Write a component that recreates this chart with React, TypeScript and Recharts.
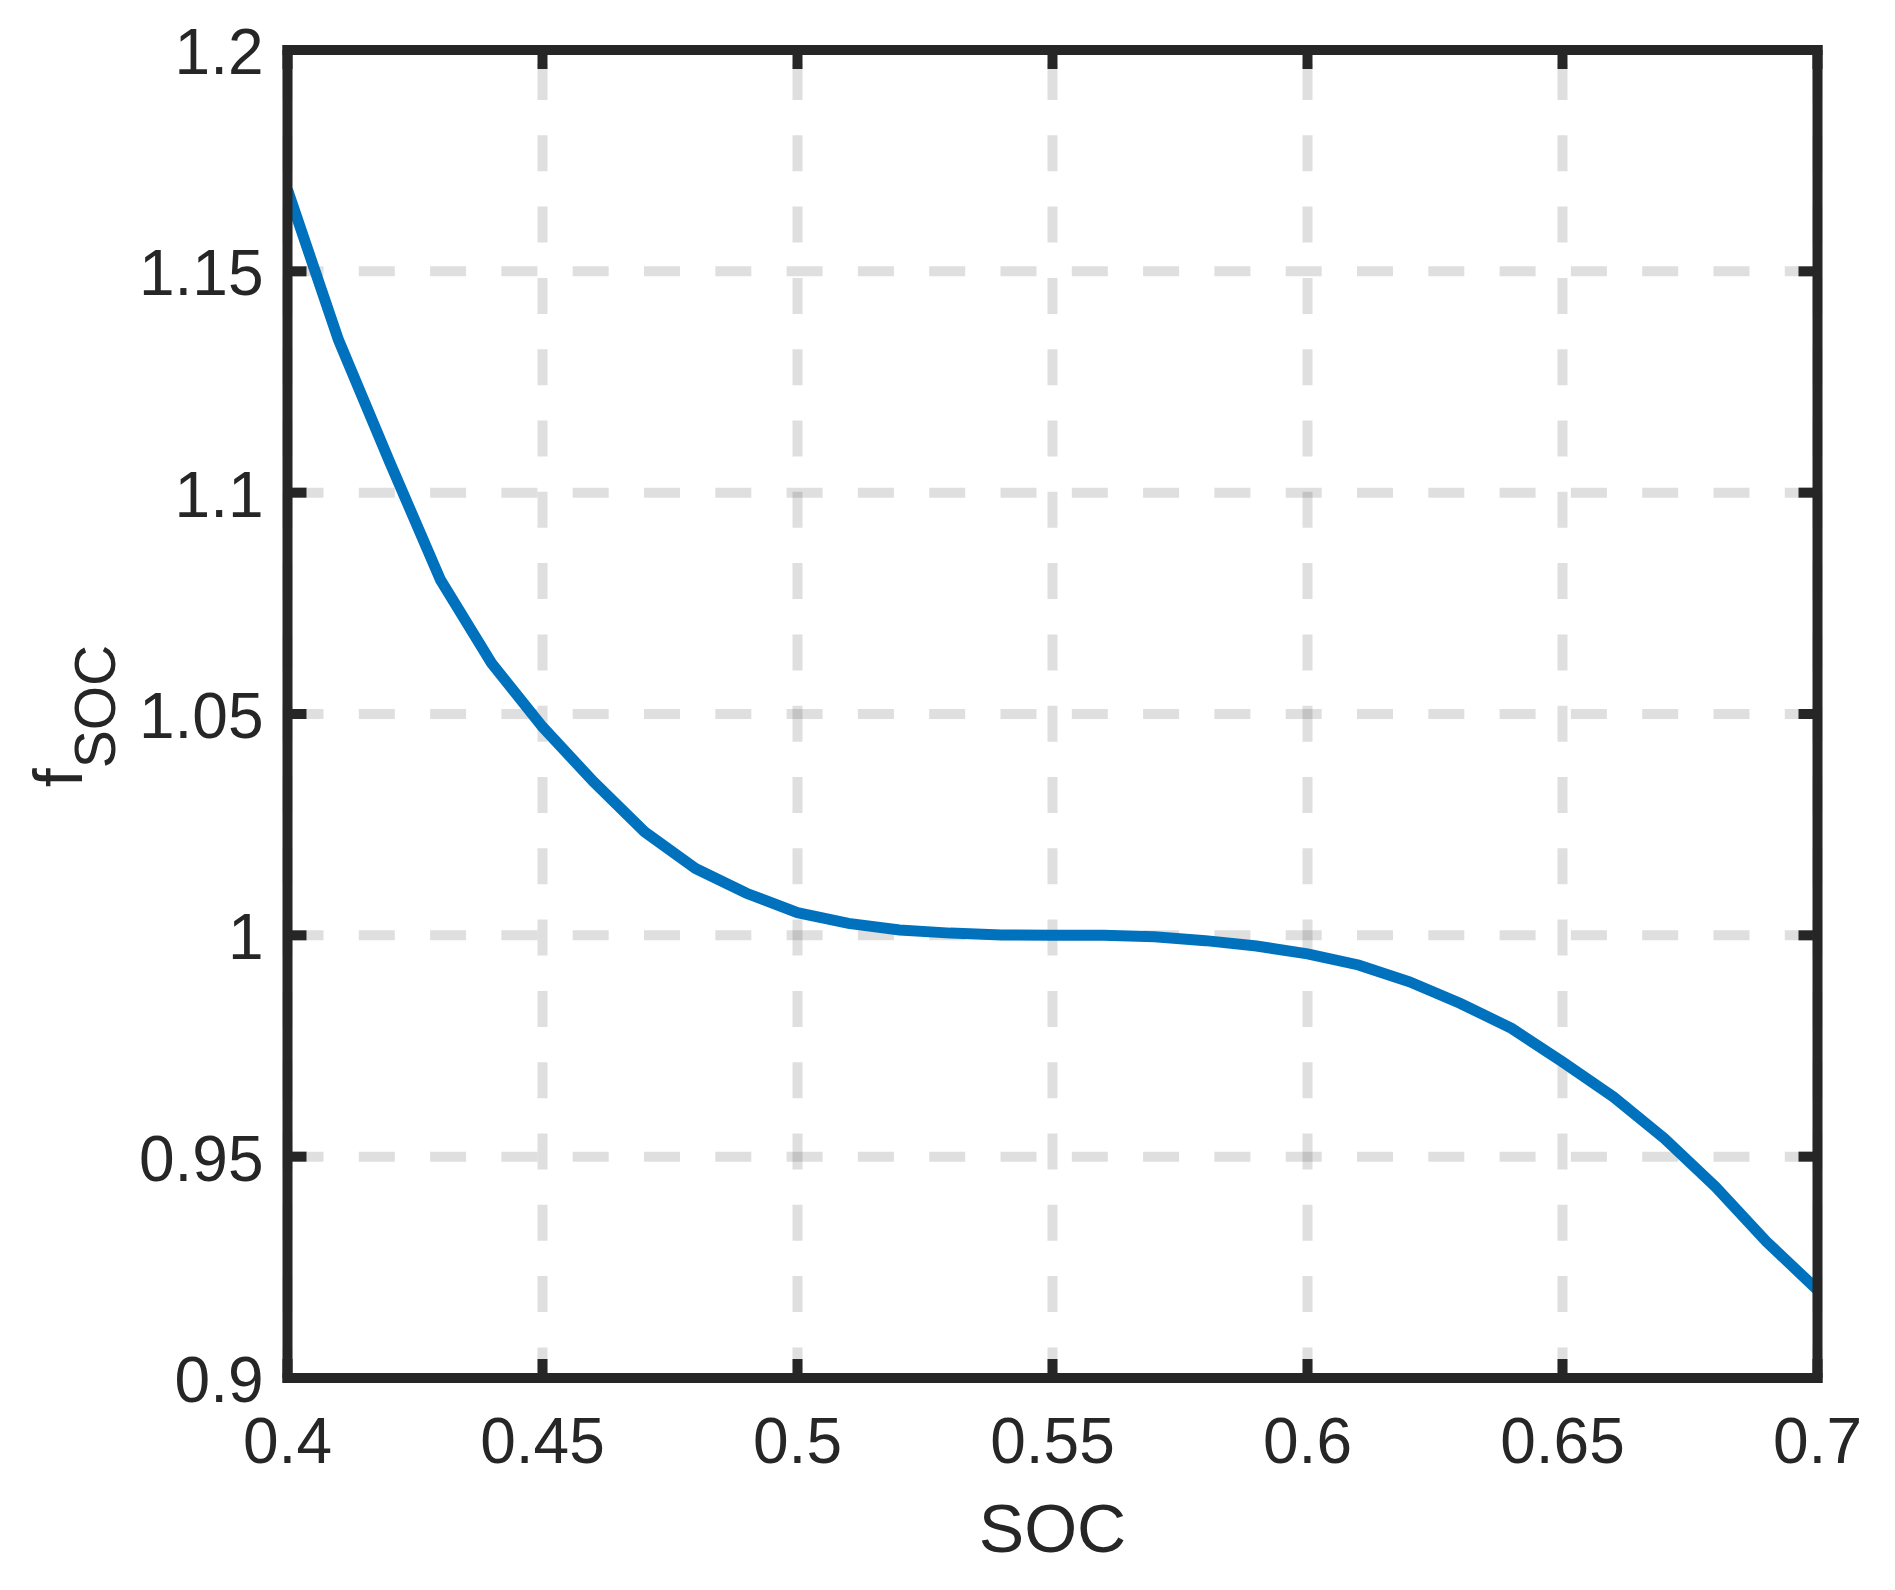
import React from 'react'
import { LineChart, Line, XAxis, YAxis, CartesianGrid, Label } from 'recharts'

const socValues = [0.4, 0.41, 0.42, 0.43, 0.44, 0.45, 0.46, 0.47, 0.48, 0.49, 0.5, 0.51, 0.52, 0.53, 0.54, 0.55,
    0.56, 0.57, 0.58, 0.59, 0.6, 0.61, 0.62, 0.63, 0.64, 0.65, 0.66, 0.67, 0.68, 0.69, 0.7]
const fsocValues = [1.1684, 1.1345, 1.107, 1.0803, 1.0615, 1.0471, 1.0347, 1.0234, 1.0151, 1.0095, 1.0051, 1.0027,
    1.0012, 1.0005, 1.0001, 1.0, 1.0, 0.9997, 0.9988, 0.9976, 0.9958, 0.9933, 0.9895, 0.9846, 0.979, 0.9714,
    0.9635, 0.9541, 0.9432, 0.9308, 0.9199]
const xTicks = [0.4, 0.45, 0.5, 0.55, 0.6, 0.65, 0.7]
const yTicks = [0.9, 0.95, 1, 1.05, 1.1, 1.15, 1.2]

const data = socValues.map((soc, i) => ({ soc, fsoc: fsocValues[i] }))

const INK = '#262626'
const FONT = '"Liberation Sans", Arial, Helvetica, sans-serif'
const TICK_LEN = 19

const BottomTick = ({ x, y, payload }: any) => (
    <g>
        <line x1={x} x2={x} y1={y} y2={y - TICK_LEN} stroke={INK} strokeWidth={10} />
        <text x={x} y={y + 85} textAnchor='middle' fontSize={64} fill={INK} fontFamily={FONT}>{payload.value}</text>
    </g>
)
const TopTick = ({ x, y }: any) => (
    <line x1={x} x2={x} y1={y} y2={y + TICK_LEN} stroke={INK} strokeWidth={10} />
)
const LeftTick = ({ x, y, payload }: any) => (
    <g>
        <line x1={x} x2={x + TICK_LEN} y1={y} y2={y} stroke={INK} strokeWidth={10} />
        <text x={x - 24} y={y + 24} textAnchor='end' fontSize={64} fill={INK} fontFamily={FONT}>{payload.value}</text>
    </g>
)
const RightTick = ({ x, y }: any) => (
    <line x1={x} x2={x - TICK_LEN} y1={y} y2={y} stroke={INK} strokeWidth={10} />
)

const gridLine = (offset: number) => (props: any) => (
    <line key={props.key} x1={props.x1} y1={props.y1} x2={props.x2} y2={props.y2}
        stroke={INK} strokeOpacity={0.15} strokeWidth={10}
        strokeDasharray='36 35.3' strokeDashoffset={offset} />
)

const frame = { stroke: INK, strokeWidth: 10, strokeLinecap: 'square' as const }

const XLabel = ({ viewBox }: any) => (
    <text x={viewBox.x + viewBox.width / 2} y={viewBox.y + 174} textAnchor='middle'
        fontSize={68} fill={INK} fontFamily={FONT}>SOC</text>
)
const YLabel = ({ viewBox }: any) => {
    const cx = 74
    const cy = viewBox.y + viewBox.height / 2 + 2
    return (
        <text x={cx} y={cy} textAnchor='middle' transform={`rotate(-90, ${cx}, ${cy})`}
            fontSize={68} fill={INK} fontFamily={FONT}>
            f<tspan dy={33} fontSize={57}>SOC</tspan>
        </text>
    )
}

const App = () => {
    return (
        <LineChart width={1880} height={1582} data={data}
            margin={{ top: 41, right: 69.5, left: 0, bottom: 0 }}>
            <CartesianGrid horizontal={gridLine(0)} vertical={gridLine(-14)} />
            <XAxis dataKey='soc' type='number' domain={[0.4, 0.7]} ticks={xTicks} height={212}
                tickSize={0} tickMargin={0} axisLine={frame} tickLine={false} tick={<BottomTick />}
                allowDataOverflow interval={0}>
                <Label content={<XLabel />} />
            </XAxis>
            <XAxis xAxisId='top' dataKey='soc' orientation='top' type='number' domain={[0.4, 0.7]} ticks={xTicks}
                height={1} tickSize={0} tickMargin={0} axisLine={frame} tickLine={false} tick={<TopTick />}
                allowDataOverflow interval={0} />
            <YAxis type='number' domain={[0.9, 1.2]} ticks={yTicks} width={279.5}
                tickSize={0} tickMargin={0} axisLine={frame} tickLine={false} tick={<LeftTick />}
                allowDataOverflow interval={0}>
                <Label content={<YLabel />} />
            </YAxis>
            <YAxis yAxisId='right' orientation='right' type='number' domain={[0.9, 1.2]} ticks={yTicks} width={1}
                tickSize={0} tickMargin={0} axisLine={frame} tickLine={false} tick={<RightTick />}
                allowDataOverflow interval={0} />
            <Line type='linear' dataKey='fsoc' stroke='#0072BD' strokeWidth={11} dot={false}
                isAnimationActive={false} />
            <Line xAxisId='top' yAxisId='right' type='linear' dataKey='fsoc' stroke='none' dot={false}
                activeDot={false} legendType='none' isAnimationActive={false} />
        </LineChart>
    )
}

export default App
